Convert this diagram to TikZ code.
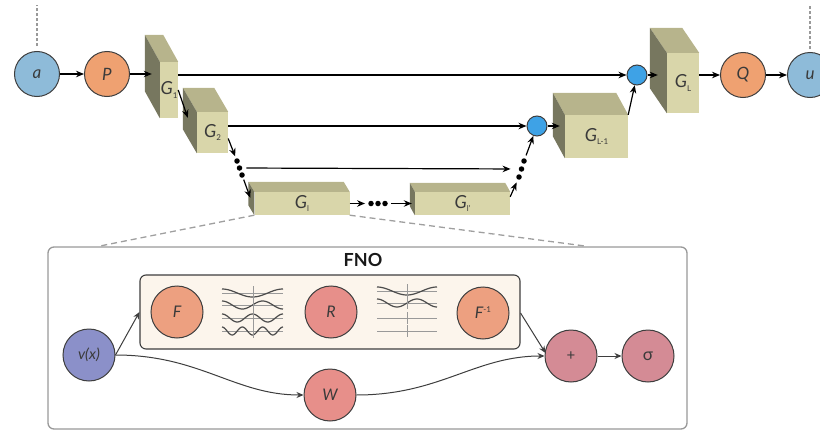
\documentclass[tikz,border=0pt]{standalone}
\usepackage{fontspec}
\setmainfont{Lato}
\usetikzlibrary{arrows.meta,calc}

\definecolor{cblue}{HTML}{8EBBD9}
\definecolor{corange}{HTML}{EFA171}
\definecolor{csum}{HTML}{3EA2E6}
\definecolor{cfourier}{HTML}{EDA080}
\definecolor{cred}{HTML}{E78F8A}
\definecolor{cmauve}{HTML}{D48B95}
\definecolor{cviolet}{HTML}{8B90C9}
\definecolor{cfront}{HTML}{D9D6AA}
\definecolor{ctop}{HTML}{B7B48C}
\definecolor{cside}{HTML}{77775F}
\definecolor{ccream}{HTML}{FCF5EC}
\definecolor{cedge}{HTML}{3E3E3E}
\definecolor{ctext}{HTML}{3A3A3A}

% small upright index for block and operator labels
\newcommand\idx[1]{{\upshape\fontsize{8}{8}\selectfont #1}}
\newcommand\lowidx[1]{\raisebox{-3.5pt}{\idx{#1}}}
\newcommand\highidx[1]{\raisebox{6pt}{\idx{#1}}}

% 3D block: name, centre x, centre y, width, height, depth dx, depth dy, label
\newcommand\gblock[8]{%
  \node[gfront, minimum width=#4pt, minimum height=#5pt] (#1) at (#2,#3) {#8};
  \fill[ctop] (#1.north west) -- (#1.north east) -- ++(#6,#7)
        -- ($(#1.north west)+(#6,#7)$) -- cycle;
  \fill[cside] (#1.north west) -- ($(#1.north west)+(#6,#7)$)
        -- ($(#1.south west)+(#6,#7)$) -- (#1.south west) -- cycle;
}
% one row of a spectrum: start x, y, length, cycles, phase
\newcommand\waverow[5]{%
  \draw[waveaxis] (#1,#2) -- ++(#3,0);
  \draw[wavecurve] plot[domain=0:#3, samples=60, smooth, variable=\t]
        ({#1+\t},{#2+4*sin(\t/#3*360*#4+#5)});
}

\begin{document}
\begin{tikzpicture}[x=1pt, y=-1pt,
  topc/.style={circle, draw=cedge, line width=1pt, minimum size=45pt, inner sep=0pt,
               font=\fontsize{17}{17}\selectfont\itshape, text=ctext},
  sumc/.style={circle, draw=cedge, line width=1pt, fill=csum, minimum size=20pt, inner sep=0pt},
  fnoc/.style={circle, draw=cedge, line width=1pt, minimum size=52pt, inner sep=0pt,
               font=\fontsize{16}{16}\selectfont\itshape, text=ctext},
  gfront/.style={fill=cfront, inner sep=0pt, text=ctext,
               font=\fontsize{18}{18}\selectfont\itshape},
  arr/.style={-{Stealth[length=8pt, width=6.5pt]}, line width=1.2pt, black},
  iarr/.style={-{Stealth[length=7pt, width=6pt]}, line width=1pt, cedge},
  dotn/.style={circle, fill=black, inner sep=0pt, minimum size=5.5pt},
  topdash/.style={draw=gray!80, line width=1.1pt, dash pattern=on 3pt off 2pt},
  fnodash/.style={draw=gray!75, line width=1.3pt, dash pattern=on 6pt off 4pt},
  waveaxis/.style={draw=gray!80, line width=1pt},
  wavecurve/.style={draw=black!70, line width=1.2pt},
]
\useasboundingbox (0,0) rectangle (820,431);

% ---------- encoder / decoder path ----------
\node[topc, fill=cblue]   (a) at (37,74)  {a};
\node[topc, fill=corange] (P) at (107,74) {P};
\node[topc, fill=corange] (Q) at (743,75) {Q};
\node[topc, fill=cblue]   (u) at (810,75) {u};
\node[sumc] (s1) at (637,75) {};
\node[sumc] (s2) at (537,126) {};

\gblock{g1}{169}{90}{18}{56}{-15}{-27}{G\lowidx{1}}
\gblock{g2}{212.5}{132.5}{31}{41}{-14}{-24}{G\lowidx{2}}
\gblock{gl}{302}{203.5}{95}{23}{-6}{-10}{G\lowidx{l}}
\gblock{glp}{462.5}{203.5}{95}{23}{-5}{-9}{G\lowidx{l'}}
\gblock{gLm}{596.5}{136.5}{63}{43}{-12}{-22}{G\lowidx{L-1}}
\gblock{gL}{683}{83}{32}{60}{-17}{-25}{G\lowidx{L}}

% dots between levels
\node[dotn] (dl1) at (237,161) {};
\node[dotn] (dl2) at (239.5,168) {};
\node[dotn] (dl3) at (242,175) {};
\node[dotn] (dr1) at (519,177) {};
\node[dotn] (dr2) at (521.5,169) {};
\node[dotn] (dr3) at (524,161) {};
\node[dotn] (hd1) at (371,203.5) {};
\node[dotn] (hd2) at (378,203.5) {};
\node[dotn] (hd3) at (385,203.5) {};

% dashed leads
\draw[topdash] ([yshift=5pt]a.north) -- (a.north |- 0,5);
\draw[topdash] ([yshift=3pt]u.north) -- (u.north |- 0,5);

% connectors
\draw[arr] (a) -- (P);
\draw[arr] (P) -- ([xshift=-8pt]g1.west |- P);
\draw[arr] (g1.east |- s1) -- (s1);
\draw[arr] (g1.east) -- ($(g2.north west)+(-9,6)$);
\draw[arr] (g2.east |- s2) -- (s2);
\draw[arr, shorten >=2pt] ($(g2.east)+(0,6)$) -- (dl1);
\draw[arr, shorten <=2pt] (dl3) -- ($(gl.north west)+(-4,6)$);
\draw[arr, shorten <=4pt, shorten >=8pt] (dl2) -- (dr2);
\draw[arr, shorten >=3pt] (gl.east) -- (hd1);
\draw[arr, shorten <=3pt] (hd3) -- ([xshift=-3pt]glp.west);
\draw[arr, shorten >=3pt] ($(glp.north east)+(0,5)$) -- (dr1);
\draw[arr, shorten <=3pt] (dr3) -- (s2);
\draw[arr] (s2) -- ([xshift=-5pt]gLm.west |- s2);
\draw[arr] (gLm.north east) -- (s1);
\draw[arr] (s1) -- ([xshift=-9pt]gL.west |- s1);
\draw[arr] (gL.east |- Q) -- (Q);
\draw[arr] (Q) -- (u);

% ---------- FNO layer ----------
\coordinate (zl) at (100,246);
\coordinate (zr) at (585,246);
\draw[fnodash] (gl.south west) -- (zl);
\draw[fnodash] (gl.south east) -- (zr);

\node[draw=gray!80, line width=1.3pt, rounded corners=6pt, fill=white,
      minimum width=639pt, minimum height=182pt] (fno) at (367.5,338) {};
\node[font=\fontsize{18}{18}\selectfont\bfseries, text=black!90] (fnot) at (363,260) {FNO};

\node[draw=cedge, line width=1.1pt, rounded corners=6pt, fill=ccream,
      minimum width=380pt, minimum height=74pt] (inbox) at (330,312) {};

\node[fnoc, fill=cfourier] (F)    at (177,312) {F};
\node[fnoc, fill=cred]     (R)    at (331,312) {R};
\node[fnoc, fill=cfourier] (Finv) at (483,313) {F\highidx{-1}};
\node[fnoc, fill=cviolet, font=\fontsize{15}{15}\selectfont\itshape] (v) at (89,355) {v(x)};
\node[fnoc, fill=cred]     (W)    at (330,395) {W};
\node[fnoc, fill=cmauve, font=\fontsize{15}{15}\selectfont] (plus)  at (571,356) {+};
\node[fnoc, fill=cmauve, font=\fontsize{17}{17}\selectfont] (sigma) at (648,356) {σ};

% full spectrum
\waverow{222}{293}{61}{1}{-90}
\waverow{222}{305}{61}{1.5}{-90}
\waverow{222}{318}{61}{2}{-90}
\waverow{222}{331}{61}{3}{-90}
\draw[waveaxis] (253,286) -- (253,338);
% truncated spectrum
\waverow{377}{291}{60}{1}{-90}
\waverow{377}{303}{60}{1.5}{-90}
\draw[waveaxis] (377,318) -- ++(60,0);
\draw[waveaxis] (377,331) -- ++(60,0);
\draw[waveaxis] (407,284) -- (407,309);
\draw[waveaxis] (407,312) -- (407,324);
\draw[waveaxis] (407,325) -- (407,337);

\draw[iarr] (v.east) -- (inbox.west |- F);
\draw[iarr] (v.east) .. controls (200,355) and (235,395) .. (W.west);
\draw[iarr] (W.east) .. controls (440,395) and (475,356) .. (plus.west);
\draw[iarr] (inbox.east |- Finv) -- ($(plus.west)+(1,-3)$);
\draw[iarr] (plus) -- (sigma);
\end{tikzpicture}
\end{document}
